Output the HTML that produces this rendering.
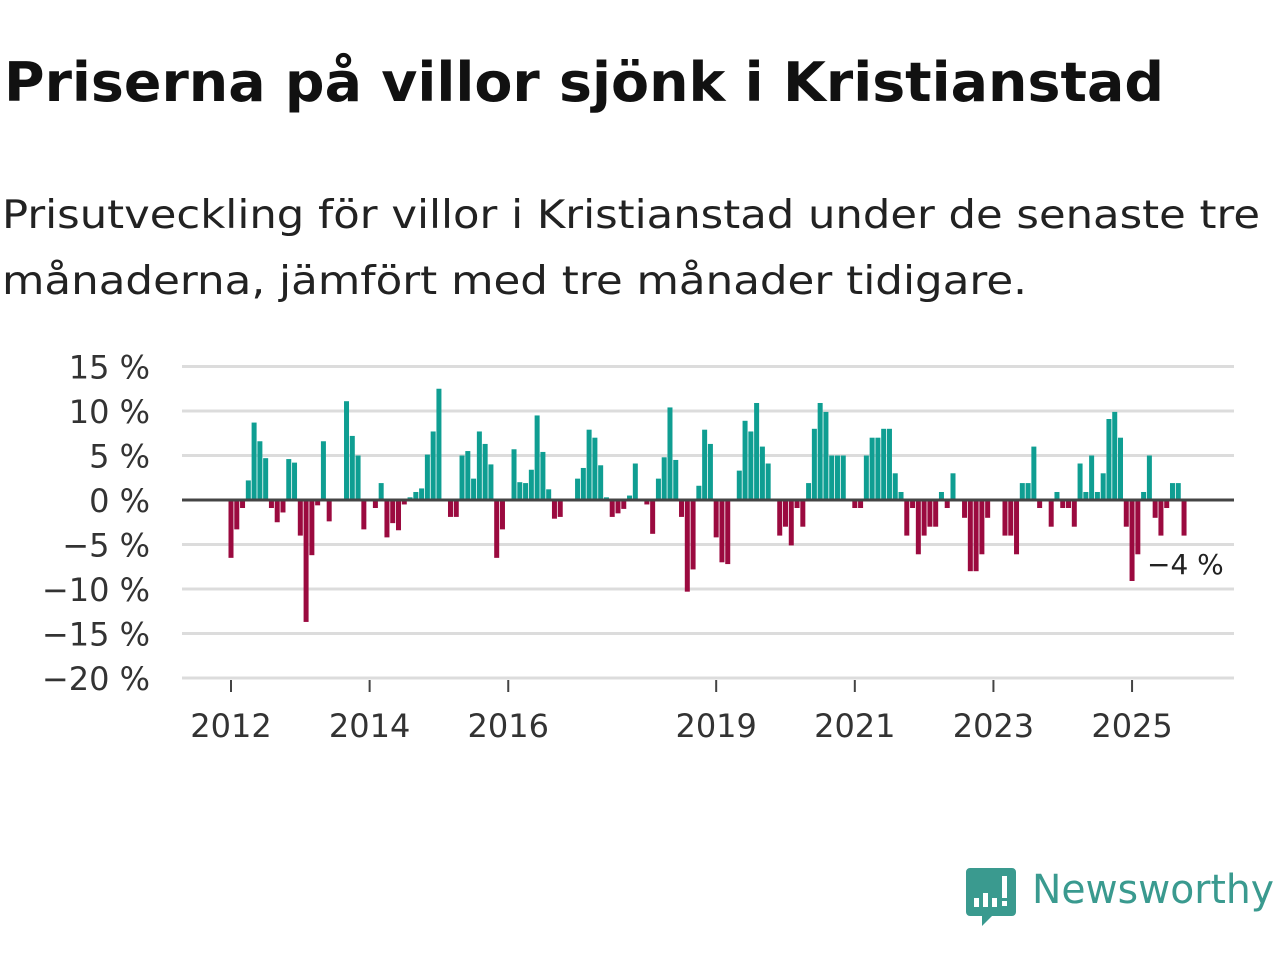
<!DOCTYPE html>
<html><head><meta charset="utf-8"><style>
body{margin:0;width:1280px;height:960px;background:#fff;font-family:"DejaVu Sans","Liberation Sans",sans-serif;overflow:hidden}
svg{position:absolute;left:0;top:0}
</style></head><body>
<svg id="c" width="1280" height="960" font-family="DejaVu Sans, Liberation Sans, sans-serif">
<text x="4" y="101" font-size="54" font-weight="bold" fill="#111" textLength="1160" lengthAdjust="spacingAndGlyphs">Priserna på villor sjönk i Kristianstad</text>
<text x="2" y="228" font-size="39" fill="#222" textLength="1258" lengthAdjust="spacingAndGlyphs">Prisutveckling för villor i Kristianstad under de senaste tre</text>
<text x="2" y="294" font-size="39" fill="#222" textLength="1025" lengthAdjust="spacingAndGlyphs">månaderna, jämfört med tre månader tidigare.</text>
<g id="grid"></g>
<g id="yl"></g>
<g id="bars"></g>
<g id="xl"></g>
<g>
<path d="M966 868 h46 a4 4 0 0 1 4 4 v40 a4 4 0 0 1 -4 4 h-20 l-10 10 v-10 h-12 a4 4 0 0 1 -4 -4 v-40 a4 4 0 0 1 4 -4z" fill="#3a9a8f"/>
<rect x="974" y="898" width="5" height="9" fill="#fff"/><rect x="983" y="893" width="5" height="14" fill="#fff"/><rect x="992" y="898" width="5" height="9" fill="#fff"/><rect x="1002" y="876" width="5" height="22" fill="#fff"/><rect x="1002" y="901" width="5" height="5" fill="#fff"/>
<text x="1032" y="903" font-size="40" fill="#3a9a8f" textLength="242" lengthAdjust="spacingAndGlyphs">Newsworthy</text>
</g>
</svg>
<script>
const values=[-6.5,-3.3,-0.9,2.2,8.7,6.6,4.7,-0.9,-2.5,-1.4,4.6,4.2,
-4.0,-13.7,-6.2,-0.6,6.6,-2.4,0,0,11.1,7.2,5.0,-3.3,
0,-0.9,1.9,-4.2,-2.6,-3.4,-0.5,0.3,0.9,1.3,5.1,7.7,
12.5,0,-1.9,-1.9,5.0,5.5,2.4,7.7,6.3,4.0,-6.5,-3.3,
0,5.7,2.0,1.9,3.4,9.5,5.4,1.2,-2.1,-1.9,0,0,
2.4,3.6,7.9,7.0,3.9,0.3,-1.9,-1.5,-1.0,0.5,4.1,0,
-0.5,-3.8,2.4,4.8,10.4,4.5,-1.9,-10.3,-7.8,1.6,7.9,6.3,
-4.2,-7.0,-7.2,0,3.3,8.9,7.7,10.9,6.0,4.1,0,-4.0,
-3.0,-5.1,-0.9,-3.0,1.9,8.0,10.9,9.9,5.0,5.0,5.0,0,
-0.9,-0.9,5.0,7.0,7.0,8.0,8.0,3.0,0.9,-4.0,-0.9,-6.1,
-4.0,-3.0,-3.0,0.9,-0.9,3.0,0,-2.0,-8.0,-8.0,-6.1,-2.0,
0,0,-4.0,-4.0,-6.1,1.9,1.9,6.0,-0.9,0,-3.0,0.9,
-0.9,-0.9,-3.0,4.1,0.9,5.0,0.9,3.0,9.1,9.9,7.0,-3.0,
-9.1,-6.1,0.9,5.0,-2.0,-4.0,-0.9,1.9,1.9,-4.0];
const yTicks=[15,10,5,0,-5,-10,-15,-20];
const xTickYears=[2012,2014,2016,2019,2021,2023,2025];
const startYear=2012;
const NS="http://www.w3.org/2000/svg";
const x=m=>231+m*5.776;
const y=v=>500-v*8.9;
function mk(t,a,p){const e=document.createElementNS(NS,t);for(const k in a)e.setAttribute(k,a[k]);p.appendChild(e);return e;}
const grid=document.getElementById('grid'),yl=document.getElementById('yl'),bars=document.getElementById('bars'),xl=document.getElementById('xl');
yTicks.forEach(t=>{
 if(t!==0){const l=mk('line',{x1:182,x2:1234,y1:y(t),y2:y(t),stroke:'#dcdcdc','stroke-width':3},grid);
 
 }
 const tx=mk('text',{x:150,y:y(t)+12,'font-size':32,'text-anchor':'end',fill:'#333'},yl);
 tx.textContent=(t<0?'\u2212'+(-t):t)+' %';
 
 
});
values.forEach((v,i)=>{
 if(v===0)return;
 const r=mk('rect',{x:x(i)-2.5,width:5,y:Math.min(y(v),y(0)),height:Math.abs(y(v)-y(0)),fill:v>0?'#0f9e92':'#9b0a3f'},bars);
 
 
});
const z=mk('line',{x1:182,x2:1234,y1:y(0),y2:y(0),stroke:'#444','stroke-width':3},bars);


xTickYears.forEach(yr=>{
 const m=(yr-startYear)*12;
 const t=mk('line',{x1:x(m),x2:x(m),y1:680,y2:692,stroke:'#444','stroke-width':2},xl);
 
 
 const tx=mk('text',{x:x(m),y:737,'font-size':32,'text-anchor':'middle',fill:'#333'},xl);
 tx.textContent=yr;
 
 
});
const last=values[values.length-1];
const lb=mk('text',{x:1147,y:574,'font-size':28,fill:'#222'},bars);
lb.textContent=(last<0?'\u2212'+Math.round(-last):Math.round(last))+' %';


</script>
</body></html>
